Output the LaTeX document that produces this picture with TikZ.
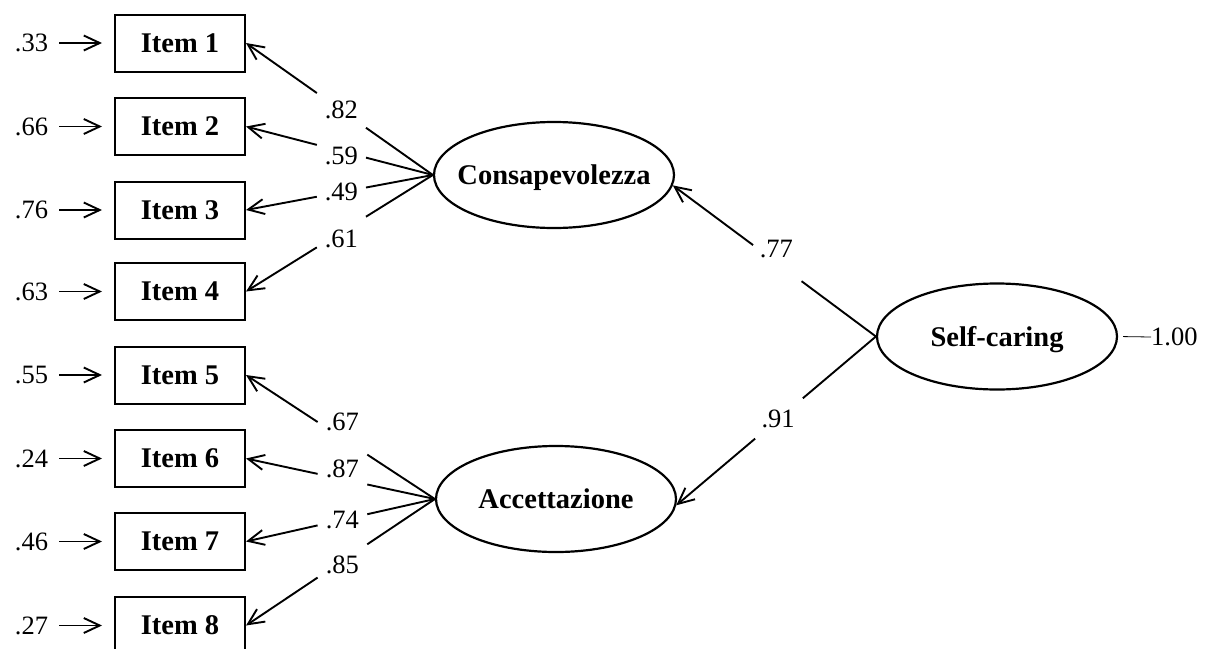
\documentclass[tikz,border=0pt]{standalone}
\usepackage{fontspec}
\setmainfont{Liberation Serif}
\usetikzlibrary{arrows.meta,shapes.geometric,calc}
\begin{document}
\begin{tikzpicture}[x=1pt,y=-1pt,
  itembox/.style={draw, line width=2pt, minimum width=130pt, minimum height=57pt,
    inner sep=0pt, font=\fontsize{28.5}{30}\selectfont\bfseries},
  latent/.style={draw, ellipse, line width=2.2pt, minimum width=240pt, minimum height=106pt,
    inner sep=0pt, text depth=0pt, font=\fontsize{28.5}{30}\selectfont\bfseries},
  num/.style={inner sep=0pt, font=\fontsize{26.5}{28}\selectfont},
  conn/.style={line width=1.9pt, -{Straight Barb[length=16pt,width=15pt]}},
  errconn/.style={conn, shorten <=11pt, shorten >=12pt},
]
\useasboundingbox (0,0) rectangle (1210,648);

% observed indicators
\foreach \i/\y/\e in {1/43/.33, 2/126.5/.66, 3/210/.76, 4/291.5/.63,
                      5/375/.55, 6/458.5/.24, 7/541.5/.46, 8/625.5/.27} {
  \node[itembox] (i\i) at (180,\y) {Item \i};
  \node[num] (e\i) at (31.5,\y) {\e};
  \draw[errconn] (e\i.east) -- (i\i.west);
}

% latent factors (zero-width labels keep the ellipse at its fixed size)
\node[latent] (con) at (554,175) {\makebox[0pt]{Consapevolezza}};
\node[latent] (acc) at (556,499) {\makebox[0pt]{Accettazione}};
\node[latent] (sc)  at (997,336.5) {\makebox[0pt]{Self-caring}};

% residual of the second-order factor
\node[num, anchor=west] (r) at (1151,337) {1.00};
\draw[line width=0.8pt, shorten <=5pt] (sc.east) -- (r.west);

% loadings on Consapevolezza
\foreach \i/\lab/\dy in {1/.82/0, 2/.59/5, 3/.49/0, 4/.61/7} {
  \draw[conn] (con.west) -- ($(con.west)!0.358!(i\i.east)$)
              ($(con.west)!0.621!(i\i.east)$) -- (i\i.east);
  \node[num] (lc\i) at ($(con.west)!0.49!(i\i.east)+(0,\dy)$) {\lab};
}

% loadings on Accettazione
\foreach \i/\lab/\dy in {5/.67/-16, 6/.87/-10, 7/.74/0, 8/.85/4} {
  \draw[conn] (acc.west) -- ($(acc.west)!0.358!(i\i.east)$)
              ($(acc.west)!0.621!(i\i.east)$) -- (i\i.east);
  \node[num] (la\i) at ($(acc.west)!0.49!(i\i.east)+(0,\dy)$) {\lab};
}

% second-order loadings
\draw[conn] (sc.west) -- ($(sc.west)!0.366!(con.-5)$)
            ($(sc.west)!0.605!(con.-5)$) -- (con.-5);
\node[num] (ls1) at ($(sc.west)!0.49!(con.-5)+(0,-13)$) {.77};
\draw[conn] (sc.west) -- ($(sc.west)!0.366!(acc.-3)$)
            ($(sc.west)!0.605!(acc.-3)$) -- (acc.-3);
\node[num] (ls2) at ($(sc.west)!0.49!(acc.-3)$) {.91};
\end{tikzpicture}
\end{document}
